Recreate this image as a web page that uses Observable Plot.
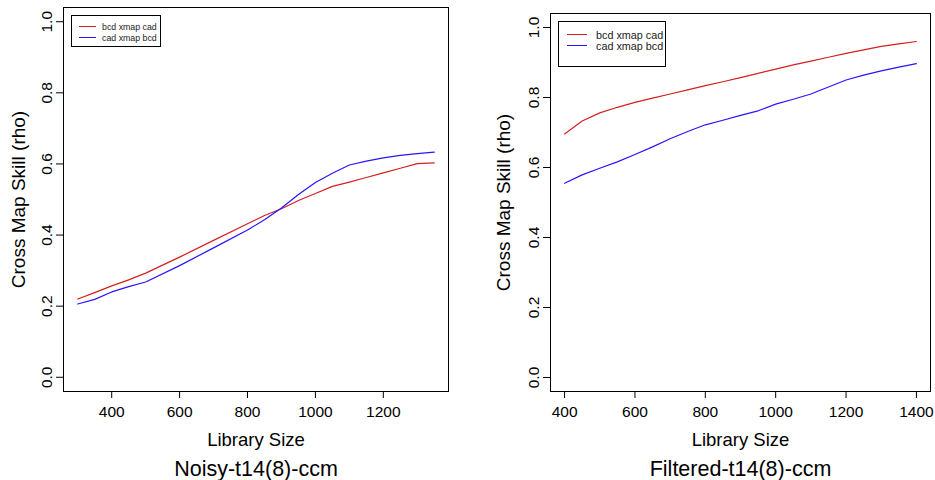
<!DOCTYPE html>
<html><head><meta charset="utf-8">
<script src="https://cdn.jsdelivr.net/npm/d3@7"></script>
<script src="https://cdn.jsdelivr.net/npm/@observablehq/plot@0.6"></script>
<style>
body{margin:0;background:#fff;}
#wrap{position:relative;width:935px;height:480px;display:flex;font-family:"Liberation Sans",Arial,Helvetica,sans-serif;}
#wrap svg{display:block;}
.legend{position:absolute;border:1px solid #000;background:#fff;box-sizing:border-box;}
.legend .sw{position:absolute;height:1px;}
.legend .tx{position:absolute;white-space:nowrap;transform:translateY(-50%);line-height:1;color:#222;}
</style></head><body><div id="wrap"></div>
<script>
const seriesNames = ["bcd xmap cad", "cad xmap bcd"];
const seriesColors = ["#d42020", "#2a14ff"];
const yTicks = [0, 0.2, 0.4, 0.6, 0.8, 1.0];
const xLabel = "Library Size";
const yLabel = "Cross Map Skill (rho)";

// Panel 1: Noisy
const noisyTitle = "Noisy-t14(8)-ccm";
const noisyTicks = [400, 600, 800, 1000, 1200];
const noisyX   = [300, 350, 400, 450, 500, 600, 700, 800, 850, 900, 950, 1000, 1050, 1100, 1150, 1200, 1250, 1300, 1350];
const noisyBcd = [0.220, 0.238, 0.257, 0.274, 0.293, 0.338, 0.385, 0.432, 0.455, 0.474, 0.497, 0.517, 0.537, 0.549, 0.562, 0.575, 0.588, 0.601, 0.603];
const noisyCad = [0.206, 0.219, 0.240, 0.255, 0.268, 0.314, 0.364, 0.414, 0.443, 0.476, 0.514, 0.548, 0.574, 0.597, 0.608, 0.617, 0.624, 0.629, 0.633];

// Panel 2: Filtered
const filtTitle = "Filtered-t14(8)-ccm";
const filtTicks = [400, 600, 800, 1000, 1200, 1400];
const filtX   = [400, 450, 500, 550, 600, 650, 700, 750, 800, 850, 900, 950, 1000, 1050, 1100, 1150, 1200, 1250, 1300, 1350, 1400];
const filtBcd = [0.696, 0.733, 0.756, 0.772, 0.786, 0.798, 0.810, 0.822, 0.834, 0.845, 0.857, 0.869, 0.881, 0.893, 0.904, 0.915, 0.926, 0.936, 0.946, 0.953, 0.960];
const filtCad = [0.555, 0.579, 0.598, 0.616, 0.637, 0.659, 0.682, 0.703, 0.722, 0.735, 0.749, 0.762, 0.781, 0.795, 0.810, 0.830, 0.850, 0.864, 0.876, 0.887, 0.897];

const FONT = '"Liberation Sans", Arial, Helvetica, sans-serif';

function panel(o) {
  const data = [
    ...o.xs.map((x, i) => ({x, y: o.a[i], series: seriesNames[0]})),
    ...o.xs.map((x, i) => ({x, y: o.b[i], series: seriesNames[1]}))
  ];
  return Plot.plot({
    width: o.width, height: 480,
    marginLeft: o.ml, marginRight: o.mr, marginTop: o.mt, marginBottom: o.mb,
    style: {fontFamily: FONT, fontSize: "15.5px", background: "white", overflow: "visible", color: "black"},
    x: {domain: o.xDomain},
    y: {domain: [-0.04, 1.04]},
    color: {domain: seriesNames, range: seriesColors},
    marks: [
      Plot.axisX({ticks: o.xTicks, tickSize: 7, tickPadding: 7, tickFormat: d => String(d), label: null, fontSize: 15.5}),
      Plot.axisY({ticks: yTicks, tickSize: 7, tickPadding: 5, tickRotate: -90, tickFormat: d3.format(".1f"), label: null, fontSize: 15.5}),
      Plot.frame({stroke: "black"}),
      Plot.line(data, {x: "x", y: "y", stroke: "series", strokeWidth: 1.2}),
      Plot.text([xLabel], {frameAnchor: "bottom", dy: 54, lineAnchor: "bottom", textAnchor: "middle", fontSize: 18.5, text: d => d}),
      Plot.text([yLabel], {frameAnchor: "left", dx: -o.ylOff, rotate: -90, lineAnchor: "top", textAnchor: "middle", fontSize: 19, text: d => d}),
      Plot.text([o.title], {frameAnchor: "bottom", dy: 84, lineAnchor: "bottom", textAnchor: "middle", fontSize: 21.5, text: d => d})
    ]
  });
}

const wrap = document.getElementById("wrap");
wrap.appendChild(panel({xs: noisyX, a: noisyBcd, b: noisyCad, xDomain: [258, 1392], xTicks: noisyTicks,
  width: 468, ml: 63, mr: 20, mt: 7, mb: 89, title: noisyTitle, ylOff: 52}));
wrap.appendChild(panel({xs: filtX, a: filtBcd, b: filtCad, xDomain: [360, 1440], xTicks: filtTicks,
  width: 467, ml: 82, mr: 5, mt: 13, mb: 89, title: filtTitle, ylOff: 54}));

function legend(spec) {
  const box = document.createElement("div");
  box.className = "legend";
  Object.assign(box.style, {left: spec.left + "px", top: spec.top + "px", width: spec.w + "px", height: spec.h + "px"});
  seriesNames.forEach((name, i) => {
    const sw = document.createElement("div");
    sw.className = "sw";
    Object.assign(sw.style, {left: spec.lx + "px", width: spec.lw + "px", top: spec.rows[i] + "px", backgroundColor: seriesColors[i]});
    const tx = document.createElement("div");
    tx.className = "tx";
    tx.textContent = name;
    Object.assign(tx.style, {left: spec.tx + "px", top: (spec.rows[i] + 0.5) + "px", fontSize: spec.fs + "px"});
    box.appendChild(sw); box.appendChild(tx);
  });
  wrap.appendChild(box);
}
legend({left: 71, top: 15, w: 90, h: 32, lx: 7, lw: 17, tx: 30, rows: [10, 21], fs: 8.8});
legend({left: 558, top: 21, w: 108, h: 46, lx: 8, lw: 20, tx: 37, rows: [12, 23], fs: 10.8});
</script></body></html>
